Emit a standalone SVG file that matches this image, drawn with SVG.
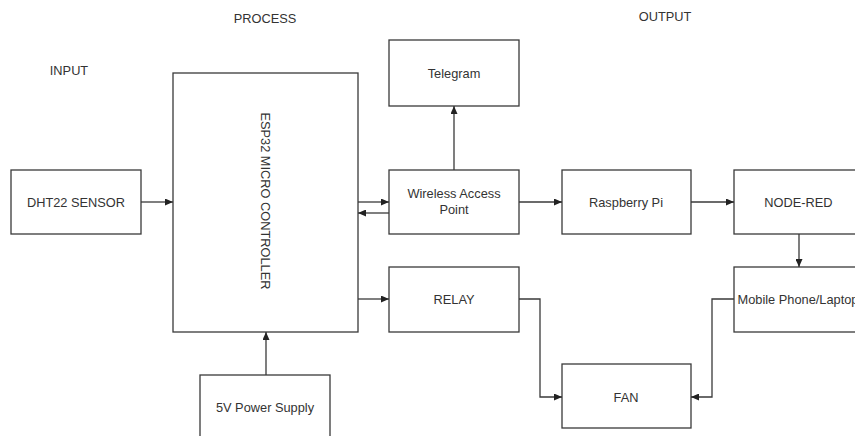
<svg xmlns="http://www.w3.org/2000/svg" width="855" height="436" viewBox="0 0 855 436">
<style>
.box{fill:#ffffff;stroke:#3a3a3a;stroke-width:1.3}
.t{font-family:"Liberation Sans",Arial,sans-serif;font-size:12.8px;fill:#333;text-anchor:middle}
.c{fill:none;stroke:#3a3a3a;stroke-width:1.3;marker-end:url(#ah)}
</style>
<defs>
<marker id="ah" markerWidth="8" markerHeight="7" refX="8" refY="3.5" orient="auto" markerUnits="userSpaceOnUse">
<path d="M0,0 L8,3.5 L0,7 z" fill="#222"/>
</marker>
</defs>
<rect width="855" height="436" fill="#ffffff"/>
<g id="labels">
<text class="t" x="69" y="75">INPUT</text>
<text class="t" x="265" y="23">PROCESS</text>
<text class="t" x="665" y="21">OUTPUT</text>
</g>
<g id="dht22">
<rect class="box" x="11" y="170" width="130" height="64"/>
<text class="t" x="76" y="206.5">DHT22 SENSOR</text>
</g>
<g id="esp32">
<rect class="box" x="173" y="73" width="185" height="259"/>
<text class="t" x="265" y="205.5" transform="rotate(90 265 201)">ESP32 MICRO CONTROLLER</text>
</g>
<g id="telegram">
<rect class="box" x="389" y="40" width="130" height="66"/>
<text class="t" x="454" y="77.5">Telegram</text>
</g>
<g id="wap">
<rect class="box" x="389" y="170" width="130" height="64"/>
<text class="t" x="454" y="198">Wireless Access</text>
<text class="t" x="454" y="214">Point</text>
</g>
<g id="raspberry">
<rect class="box" x="562" y="170" width="129" height="64"/>
<text class="t" x="626" y="206.5">Raspberry Pi</text>
</g>
<g id="nodered">
<rect class="box" x="734" y="170" width="129" height="64"/>
<text class="t" x="798.5" y="206.5">NODE-RED</text>
</g>
<g id="relay">
<rect class="box" x="389" y="267" width="130" height="65"/>
<text class="t" x="454" y="303.5">RELAY</text>
</g>
<g id="mobile">
<rect class="box" x="734" y="267" width="129" height="65"/>
<text class="t" x="798" y="303.5">Mobile Phone/Laptop</text>
</g>
<g id="fan">
<rect class="box" x="562" y="364" width="129" height="64"/>
<text class="t" x="626" y="401.5">FAN</text>
</g>
<g id="power">
<rect class="box" x="200" y="375" width="130" height="64"/>
<text class="t" x="265" y="411.5">5V Power Supply</text>
</g>
<g id="connectors">
<path class="c" d="M141,202 H173"/>
<path class="c" d="M358,202 H389"/>
<path class="c" d="M389,213 H358"/>
<path class="c" d="M454,170 V106"/>
<path class="c" d="M519,202 H562"/>
<path class="c" d="M691,202 H734"/>
<path class="c" d="M799,234 V267"/>
<path class="c" d="M358,299 H389"/>
<path class="c" d="M519,299 H540 V397 H562"/>
<path class="c" d="M734,299 H712 V397 H691"/>
<path class="c" d="M266,375 V332"/>
</g>
</svg>
